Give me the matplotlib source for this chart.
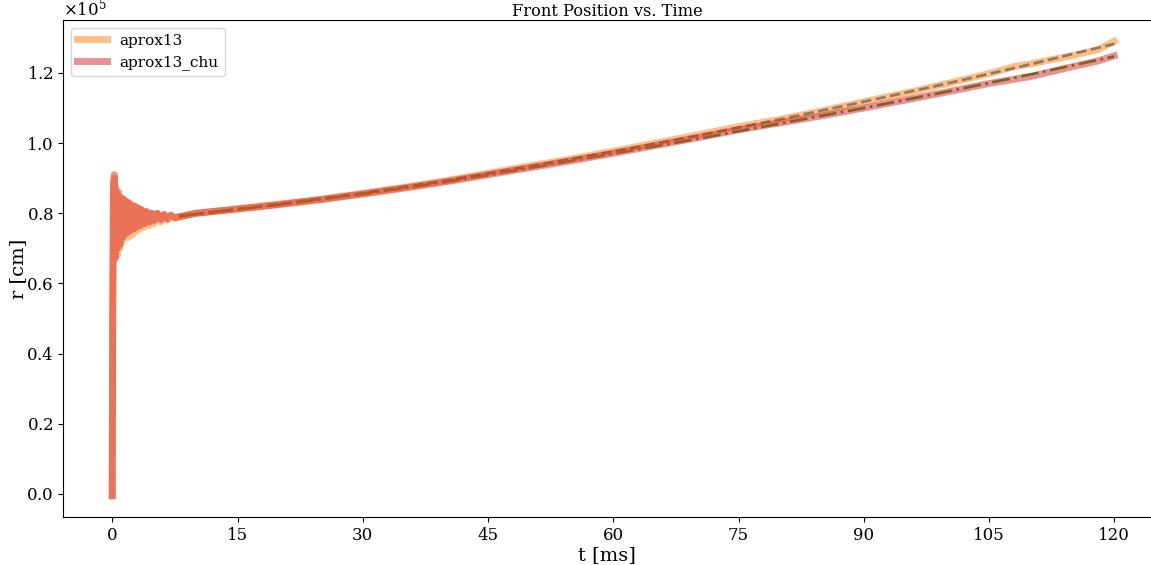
import matplotlib
matplotlib.use('Agg')
import matplotlib.pyplot as plt
import numpy as np
from matplotlib.ticker import ScalarFormatter

plt.rcParams['font.family'] = 'DejaVu Serif'
plt.rcParams['mathtext.fontset'] = 'dejavuserif'

# early transient (t in ms, r in 1e5 cm)
t_early = [0.0, 0.05, 0.15, 0.25, 0.35, 0.45, 0.6, 0.75, 0.9, 1.05, 1.2, 1.35,
           1.5, 1.65, 1.8, 1.95, 2.1, 2.3, 2.5, 2.7, 2.9, 3.1, 3.3, 3.5,
           3.8, 4.1, 4.4, 4.7, 5.0, 5.4, 5.8, 6.2, 6.6, 7.0, 7.5]
aprox13_early = [-0.005, 0.45, 0.86, 0.90, 0.70, 0.86, 0.68, 0.85, 0.70, 0.84, 0.72, 0.84,
                 0.73, 0.83, 0.73, 0.83, 0.735, 0.82, 0.74, 0.82, 0.75, 0.815, 0.755, 0.81,
                 0.76, 0.805, 0.765, 0.80, 0.77, 0.80, 0.775, 0.795, 0.78, 0.793, 0.785]
chu_early = [-0.005, 0.50, 0.88, 0.91, 0.67, 0.87, 0.70, 0.86, 0.71, 0.845, 0.73, 0.84,
             0.74, 0.835, 0.745, 0.83, 0.75, 0.825, 0.755, 0.82, 0.76, 0.815, 0.765, 0.81,
             0.77, 0.805, 0.775, 0.80, 0.78, 0.80, 0.782, 0.797, 0.785, 0.795, 0.788]

# smooth part
t_late = [8, 10, 15, 20, 25, 30, 35, 40, 45, 50, 55, 60, 65, 70, 75, 80, 85, 90,
          95, 100, 105, 108, 110, 115, 118, 120]
aprox13_late = [0.79, 0.80, 0.813, 0.826, 0.840, 0.857, 0.874, 0.893, 0.914, 0.935,
                0.955, 0.977, 1.000, 1.023, 1.047, 1.068, 1.092, 1.118, 1.143, 1.170,
                1.198, 1.218, 1.226, 1.250, 1.266, 1.290]
chu_late = [0.79, 0.80, 0.812, 0.825, 0.839, 0.855, 0.872, 0.890, 0.910, 0.930,
            0.950, 0.971, 0.993, 1.015, 1.038, 1.058, 1.078, 1.100, 1.123, 1.146,
            1.170, 1.182, 1.190, 1.218, 1.234, 1.249]

# fitted curves
t_fit = [8, 20, 30, 40, 50, 60, 70, 80, 90, 100, 110, 120]
aprox13_fit = [0.792, 0.826, 0.857, 0.893, 0.934, 0.976, 1.021, 1.068, 1.118, 1.170, 1.225, 1.283]
chu_fit = [0.792, 0.825, 0.855, 0.890, 0.929, 0.970, 1.012, 1.056, 1.100, 1.147, 1.196, 1.247]

t13 = np.concatenate([t_early, t_late])
r13 = np.concatenate([aprox13_early, aprox13_late]) * 1e5
rchu = np.concatenate([chu_early, chu_late]) * 1e5

fig = plt.figure(figsize=(11.51, 5.65), dpi=100)
ax = fig.add_axes([63 / 1151, 48 / 565, 1 - 63 / 1151, 497 / 565])

ax.plot(t_fit, np.array(aprox13_fit) * 1e5, color='C0', ls='--', lw=2, zorder=1)
ax.plot(t_fit, np.array(chu_fit) * 1e5, color='C2', ls='-.', lw=2, zorder=1)
ax.plot(t13, r13, color='C1', alpha=0.5, lw=5, label='aprox13', zorder=2)
ax.plot(t13, rchu, color='C3', alpha=0.5, lw=5, label='aprox13_chu', zorder=2)

ax.set_xlim(-5.9, 124.4)
ax.set_ylim(-0.0656e5, 1.351e5)
ax.spines['right'].set_visible(False)
ax.set_xticks(np.arange(0, 121, 15))
ax.set_yticks(np.arange(0, 1.21e5, 0.2e5))
fmt = ScalarFormatter(useMathText=True)
fmt.set_powerlimits((0, 0))
ax.yaxis.set_major_formatter(fmt)
ax.yaxis.get_offset_text().set_fontsize(12)
ax.tick_params(labelsize=12)

ax.set_xlabel('t [ms]', fontsize=14, labelpad=2)
ax.set_ylabel('r [cm]', fontsize=14, labelpad=-1)
ax.set_title('Front Position vs. Time', fontsize=11.7, pad=3)
ax.legend(loc='upper left', fontsize=11, handlelength=2.0)

fig.savefig('out.png', dpi=100)
